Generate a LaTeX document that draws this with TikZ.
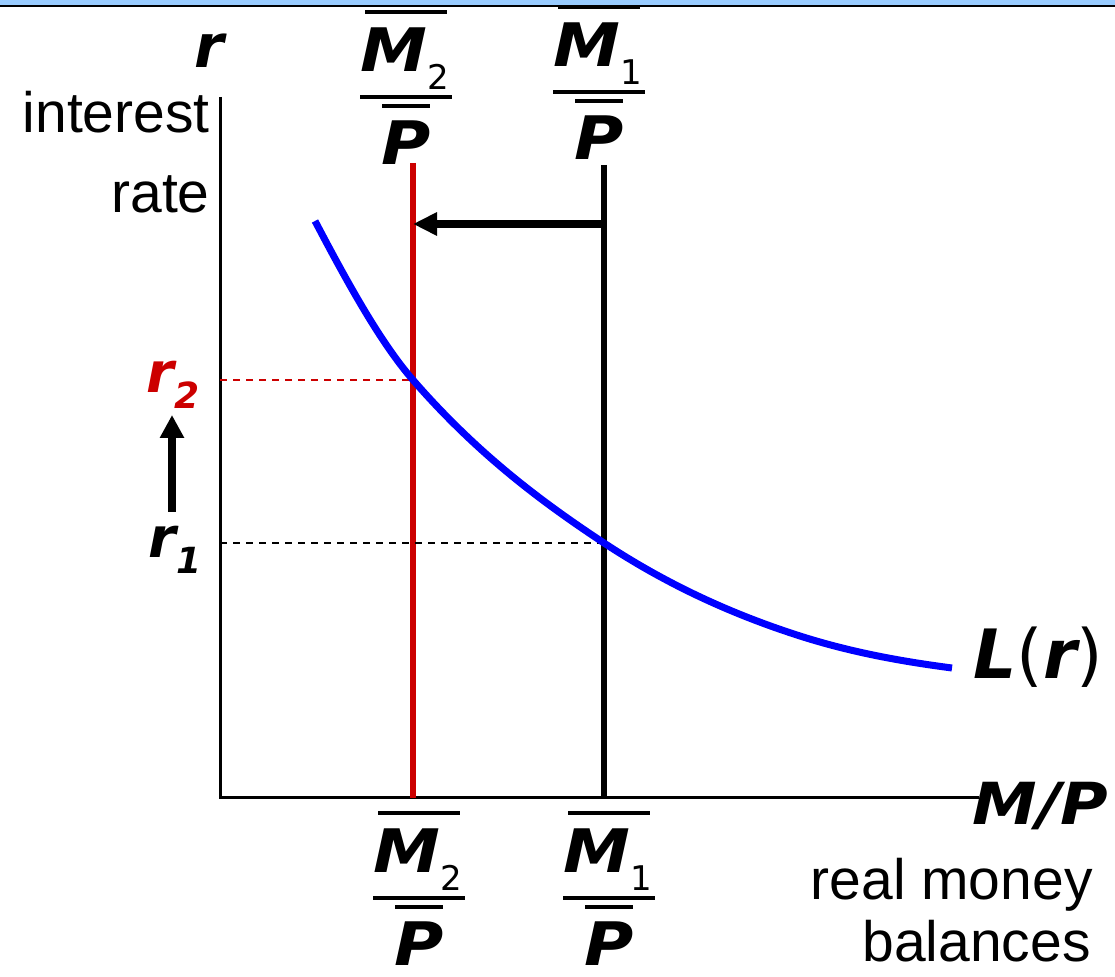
\documentclass[tikz,border=0pt]{standalone}
\usepackage{fontspec}
\newfontfamily\dv{DejaVu Sans}[ItalicFont={DejaVu Sans Oblique},BoldFont={DejaVu Sans Bold},BoldItalicFont={DejaVu Sans Bold Oblique}]
\newfontfamily\dvw{DejaVu Sans}[FakeStretch=1.12,ItalicFont={DejaVu Sans Oblique},BoldFont={DejaVu Sans Bold},BoldItalicFont={DejaVu Sans Bold Oblique}]
\newfontfamily\lsans{Liberation Sans}
\usetikzlibrary{arrows.meta}
\definecolor{bandblue}{RGB}{153,204,255}
\definecolor{myred}{RGB}{204,0,0}
\definecolor{myblue}{RGB}{0,0,255}
\newcommand\subrm[1]{{\dv\fontsize{17}{17}\selectfont\mdseries\upshape #1}}
\newcommand\MPfrac[4]{%
  \draw[barline] (#2-41,#3) -- (#2+41,#3);
  \node[bigbi, anchor=base] (#1M) at (#2-1,#3+60) {M\raisebox{-9pt}{\subrm{#4}}};
  \draw[barline] (#2-46,#3+85) -- (#2+46,#3+85);
  \draw[barline] (#2-24,#3+94) -- (#2+24,#3+94);
  \node[bigbi, anchor=base] (#1P) at (#2,#3+153) {P};
}
\begin{document}
\begin{tikzpicture}[x=0.5pt,y=-0.5pt,
  bigbi/.style={font={\dvw\fontsize{30}{36}\selectfont\bfseries\itshape}, inner sep=0pt},
  midbi/.style={font={\dv\fontsize{28}{34}\selectfont\bfseries\itshape}, inner sep=0pt},
  rmtext/.style={font={\lsans\fontsize{28.5}{34}\selectfont}, inner sep=0pt},
  barline/.style={line width=1.7pt},
  axisline/.style={line width=1.5pt},
  supply/.style={line width=3pt},
  guide/.style={line width=1pt, dash pattern=on 3.5pt off 3pt},
  shiftarrow/.style={line width=4pt, -{Triangle[length=12pt,width=11pt]}},
  uparrow/.style={line width=4pt, -{Triangle[length=11.5pt,width=11.5pt]}}]
\useasboundingbox (0,0) rectangle (1115,977);
% top band
\fill[bandblue] (0,0) rectangle (1115,5);
\draw[line width=1pt] (0,6) -- (1115,6);
% axes
\coordinate (origin) at (220,798);
\coordinate (ytop) at (220,97);
\coordinate (xend) at (979,798);
\draw[axisline] (ytop) -- (origin) -- (xend);
% supply lines
\coordinate (m2top) at (413,163);
\coordinate (m2bot) at (413,798);
\coordinate (m1top) at (604,165);
\coordinate (m1bot) at (604,798);
\draw[supply, myred] (m2top) -- (m2bot);
\draw[supply] (m1top) -- (m1bot);
% shift arrow
\coordinate (arrS) at (604,224);
\coordinate (arrE) at (413,224);
\draw[shiftarrow] (arrS) -- (arrE);
% dashed guides
\coordinate (r2a) at (220,380);
\coordinate (r2b) at (413,380);
\coordinate (r1a) at (220,543);
\coordinate (r1b) at (604,543);
\draw[guide, myred] (r2a) -- (r2b);
\draw[guide] (r1a) -- (r1b);
% demand curve
\coordinate (L0) at (315,221);
\coordinate (L1) at (413,380);
\coordinate (L2) at (604,543);
\coordinate (L3) at (800,636);
\coordinate (L4) at (952,668);
\draw[myblue, line width=3.5pt] (L0)
  .. controls (347.67,283.07) and (380.33,342.43) .. (L1)
  .. controls (476.67,453.2) and (540.33,501.0) .. (L2)
  .. controls (669.33,586.1) and (734.67,615.1) .. (L3)
  .. controls (850.67,652.2) and (901.33,661.4) .. (L4);
% fractions
\MPfrac{t2}{406}{12}{2}
\MPfrac{t1}{599}{7}{1}
\MPfrac{b2}{419}{813}{2}
\MPfrac{b1}{609}{813}{1}
% labels
\node[midbi, font={\dv\fontsize{30}{36}\selectfont\bfseries\itshape}, anchor=base] (rlab) at (209,68) {r};
\node[rmtext, anchor=base east] (interest) at (210,133) {interest};
\node[rmtext, anchor=base east] (rate) at (210,213) {rate};
\node[midbi, myred, anchor=base west] (r2) at (146,393) {r\raisebox{-8pt}{\fontsize{18}{18}\selectfont 2}};
\node[midbi, anchor=base west] (r1) at (148,558) {r\raisebox{-8pt}{\fontsize{18}{18}\selectfont 1}};
\coordinate (upS) at (172,512);
\coordinate (upE) at (172,415);
\draw[uparrow] (upS) -- (upE);
\node[font={\dv\fontsize{34}{40}\selectfont}, inner sep=0pt, anchor=base west] (Lr) at (973,679) {{\bfseries\itshape L}({\bfseries\itshape r})};
\node[bigbi, font={\dvw\fontsize{29}{34}\selectfont\bfseries\itshape}, anchor=base west] (MP) at (972,825) {M/P};
\node[rmtext, anchor=base east] (real) at (1093,900) {real money};
\node[rmtext, anchor=base east] (bal) at (1091,962) {balances};
\end{tikzpicture}
\end{document}
